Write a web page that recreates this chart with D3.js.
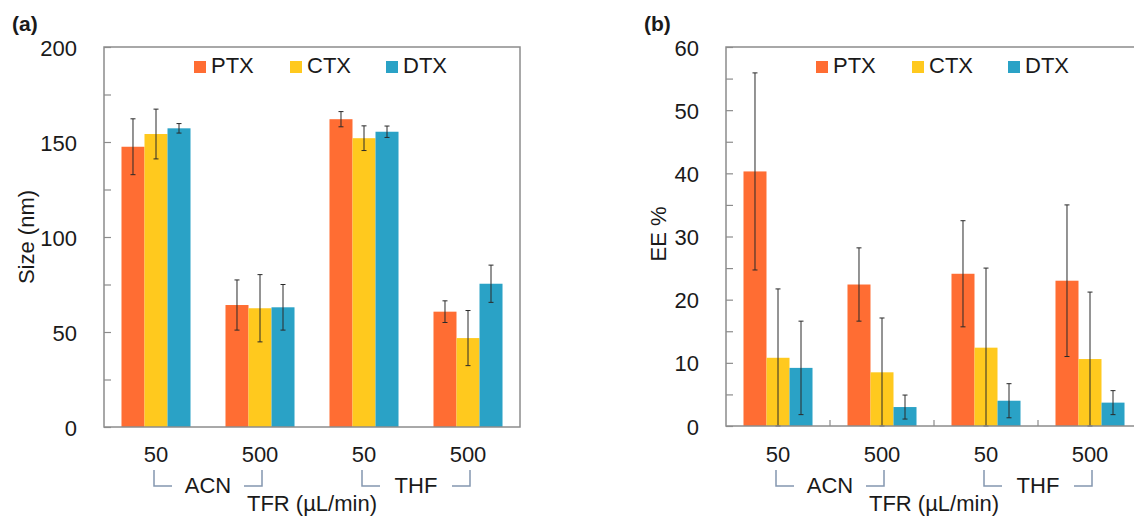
<!DOCTYPE html>
<html>
<head>
<meta charset="utf-8">
<script src="https://cdn.jsdelivr.net/npm/d3@7"></script>
<style>
  body { margin: 0; background: #fff; }
  svg text { font-family: "Liberation Sans", Arial, sans-serif; fill: #1a1a1a; }
</style>
</head>
<body>
<svg id="chart" width="1134" height="517"></svg>
<script>
// categories
var tfrLabels = ["50", "500", "50", "500"];
var solvents = ["ACN", "THF"];
var series = ["PTX", "CTX", "DTX"];
var colors = ["#ff6d33", "#ffc91e", "#2aa2c6"];

// panel (a) size (nm)
var sizePTX = [147.5, 64.2, 162.0, 60.7];
var sizePTXErr = [14.7, 13.2, 4.0, 5.7];
var sizeCTX = [154.2, 62.5, 152.0, 46.8];
var sizeCTXErr = [13.1, 17.7, 6.5, 14.5];
var sizeDTX = [157.2, 63.0, 155.4, 75.4];
var sizeDTXErr = [2.5, 12.0, 3.0, 9.8];

// panel (b) EE %
var eePTX = [40.3, 22.4, 24.1, 23.0];
var eePTXErr = [15.6, 5.8, 8.4, 12.0];
var eeCTX = [10.8, 8.5, 12.4, 10.6];
var eeCTXErr = [10.9, 8.6, 12.6, 10.6];
var eeDTX = [9.2, 3.0, 4.0, 3.7];
var eeDTXErr = [7.4, 1.9, 2.7, 1.9];

var svg = d3.select("#chart");

function drawPanel(cfg){
  var g = svg.append("g");
  var left = cfg.left, top = cfg.top, bottom = cfg.bottom, width = 416;
  var idx = d3.range(tfrLabels.length);

  var x0 = d3.scaleBand().domain(idx).range([left, left + width]).padding(0);
  var x1 = d3.scaleBand().domain(series).range([0, x0.bandwidth()]).paddingInner(0).paddingOuter(0.76);
  var y = d3.scaleLinear().domain([0, cfg.ymax]).range([bottom, top]);

  // bars
  var rows = [];
  cfg.values.forEach(function(vals, s){
    vals.forEach(function(v, i){
      rows.push({s: series[s], c: colors[s], i: i, v: v, e: cfg.errors[s][i]});
    });
  });

  g.selectAll("rect.bar")
    .data(rows)
    .enter()
    .append("rect")
    .attr("class", "bar")
    .attr("x", function(d){ return x0(d.i) + x1(d.s); })
    .attr("y", function(d){ return y(d.v); })
    .attr("width", x1.bandwidth())
    .attr("height", function(d){ return y(0) - y(d.v); })
    .style("fill", function(d){ return d.c; });

  // error bars
  var eb = g.selectAll("g.err")
    .data(rows)
    .enter()
    .append("g")
    .attr("class", "err")
    .attr("transform", function(d){ return "translate(" + (x0(d.i) + x1(d.s) + x1.bandwidth() / 2) + ",0)"; })
    .style("stroke", "#2a2a2a")
    .style("stroke-width", 1);
  eb.append("line")
    .attr("y1", function(d){ return y(d.v + d.e); })
    .attr("y2", function(d){ return y(Math.max(0, d.v - d.e)); });
  eb.append("line")
    .attr("x1", -2.5).attr("x2", 2.5)
    .attr("y1", function(d){ return y(d.v + d.e); })
    .attr("y2", function(d){ return y(d.v + d.e); });
  eb.append("line")
    .attr("x1", -2.5).attr("x2", 2.5)
    .attr("y1", function(d){ return y(Math.max(0, d.v - d.e)); })
    .attr("y2", function(d){ return y(Math.max(0, d.v - d.e)); });

  // y axis, ticks inside
  var yAxis = d3.axisLeft(y)
    .tickValues(d3.range(0, cfg.ymax + 0.001, cfg.minor))
    .tickSizeInner(-7)
    .tickSizeOuter(0)
    .tickPadding(27)
    .tickFormat(function(d){ return d % cfg.major === 0 ? d : ""; });
  var ya = g.append("g").attr("transform", "translate(" + left + ",0)").call(yAxis);
  ya.select(".domain").remove();
  ya.selectAll(".tick line").attr("stroke", "#8c8c8c").attr("stroke-width", 1.2);
  ya.selectAll(".tick text")
    .attr("dy", null).attr("y", 8)
    .style("font-size", "22px").style("font-family", null).attr("fill", null);

  // x axis
  var xAxis = d3.axisBottom(x0).tickSize(0).tickPadding(cfg.xpad)
    .tickFormat(function(i){ return tfrLabels[i]; });
  var xa = g.append("g").attr("transform", "translate(0," + bottom + ")").call(xAxis);
  xa.select(".domain").remove();
  xa.selectAll(".tick text").style("font-size", "22px").style("font-family", null).attr("fill", null);

  if(cfg.boundaryTicks){
    g.selectAll("line.bt")
      .data(idx.slice(1))
      .enter()
      .append("line")
      .attr("x1", function(i){ return x0(i); })
      .attr("x2", function(i){ return x0(i); })
      .attr("y1", bottom).attr("y2", bottom - 6)
      .attr("stroke", "#8c8c8c").attr("stroke-width", 1.2);
  }

  // frame
  g.append("rect")
    .attr("x", left).attr("y", top)
    .attr("width", width).attr("height", bottom - top)
    .attr("fill", "none").attr("stroke", "#8c8c8c").attr("stroke-width", 1.5);

  // solvent brackets
  var by1 = 470, by2 = 486;
  solvents.forEach(function(sv, k){
    var a = x0(2 * k) + x0.bandwidth() / 2 - 2;
    var b = x0(2 * k + 1) + x0.bandwidth() / 2 + 2;
    var mid = (a + b) / 2;
    var path = "M" + a + "," + by1 + "V" + by2 + "H" + (a + 18) +
      "M" + (b - 18) + "," + by2 + "H" + b + "V" + by1;
    g.append("path").attr("d", path).attr("fill", "none")
      .attr("stroke", "#8497b0").attr("stroke-width", 1.5);
    g.append("text").attr("x", mid).attr("y", 493)
      .attr("text-anchor", "middle").style("font-size", "22px").text(sv);
  });

  g.append("text").attr("x", left + width / 2).attr("y", 511)
    .attr("text-anchor", "middle").style("font-size", "22px").text("TFR (µL/min)");

  // y title
  g.append("text")
    .attr("transform", "translate(" + cfg.titleX + "," + cfg.titleY + ") rotate(-90)")
    .attr("text-anchor", "middle").style("font-size", "22px").text(cfg.ytitle);

  // panel label
  g.append("text").attr("x", cfg.labelX).attr("y", 31)
    .style("font-size", "21px").style("font-weight", "bold").text(cfg.label);

  // legend
  var lg = g.selectAll("g.leg")
    .data(series)
    .enter()
    .append("g")
    .attr("class", "leg")
    .attr("transform", function(d, i){ return "translate(" + (left + 90 + i * 96) + ",0)"; });
  lg.append("rect").attr("x", 0).attr("y", 61).attr("width", 12).attr("height", 12)
    .style("fill", function(d, i){ return colors[i]; });
  lg.append("text").attr("x", 17).attr("y", 73).style("font-size", "22px").text(String);
}

drawPanel({
  left: 104, top: 47, bottom: 427, ymax: 200, minor: 25, major: 50, xpad: 19,
  values: [sizePTX, sizeCTX, sizeDTX],
  errors: [sizePTXErr, sizeCTXErr, sizeDTXErr],
  ytitle: "Size (nm)", titleX: 34, titleY: 237, label: "(a)", labelX: 12,
  boundaryTicks: false
});

drawPanel({
  left: 726, top: 47, bottom: 426, ymax: 60, minor: 5, major: 10, xpad: 20,
  values: [eePTX, eeCTX, eeDTX],
  errors: [eePTXErr, eeCTXErr, eeDTXErr],
  ytitle: "EE %", titleX: 666, titleY: 234, label: "(b)", labelX: 644,
  boundaryTicks: true
});
</script>
</body>
</html>
